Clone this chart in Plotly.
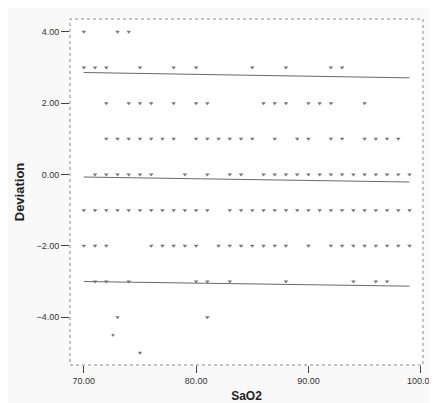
import plotly.graph_objects as go

# deviations per SaO2 value
rows = {
    4: [70, 73, 74],
    3: [70, 71, 72, 75, 78, 80, 85, 88, 92, 93],
    2: [72, 74, 75, 76, 78, 80, 81, 86, 87, 88, 90, 91, 92, 95],
    1: [72, 73, 74, 75, 76, 77, 78, 80, 81, 82, 83, 84, 85, 87, 89, 90,
        92, 93, 95, 96, 97, 98],
    0: [71, 72, 73, 74, 75, 76, 79, 81, 83, 84, 86, 87, 88, 89, 90, 91,
        92, 93, 94, 95, 96, 97, 98, 99],
    -1: [70, 71, 72, 73, 74, 75, 76, 77, 78, 79, 80, 81, 83, 84, 85, 86,
         87, 88, 89, 90, 91, 92, 93, 94, 95, 96, 97, 98, 99],
    -2: [70, 71, 72, 76, 77, 78, 79, 80, 82, 83, 84, 85, 86, 87, 88, 90,
         92, 93, 94, 95, 96, 97, 98, 99],
    -3: [71, 72, 74, 80, 81, 83, 88, 94, 96, 97],
    -4: [73, 81],
    -5: [75],
}
odd_x = [72.6]
odd_y = [-4.5]

# fitted lines (mean and limits), ends at SaO2 70 and 99
line_x = [70, 99]
upper_y = [2.86, 2.71]
mean_y = [-0.07, -0.21]
lower_y = [-3.0, -3.13]

sao2 = []
dev = []
for d, xs in rows.items():
    for x in xs:
        sao2.append(x)
        dev.append(d)

fig = go.Figure()
fig.add_trace(go.Scatter(x=sao2, y=dev, mode='markers',
                         marker=dict(symbol='triangle-down', size=4, color='#777777'),
                         showlegend=False))
fig.add_trace(go.Scatter(x=odd_x, y=odd_y, mode='markers',
                         marker=dict(symbol='circle', size=3, color='#888888'),
                         showlegend=False))
for ys in [upper_y, mean_y, lower_y]:
    fig.add_trace(go.Scatter(x=line_x, y=ys, mode='lines',
                             line=dict(color='#6a6a6a', width=1),
                             showlegend=False))

# dotted frame round the plot area
fig.add_shape(type='rect', xref='paper', yref='paper', x0=0, y0=0, x1=1, y1=1,
              line=dict(color='#8a8a8a', width=1, dash='dot'))

fig.update_layout(
    width=437, height=403,
    margin=dict(l=59, r=21, t=11, b=38),
    paper_bgcolor='#f9f9f9', plot_bgcolor='#ffffff',
    font=dict(family='Liberation Sans, Arial', size=9, color='#333333'),
)
fig.update_xaxes(range=[68.77, 100.2], tickvals=[70, 80, 90, 100], tickformat='.2f',
                 ticks='outside', ticklen=7, tickcolor='#444444', showgrid=False,
                 zeroline=False, showline=False,
                 title=dict(text='<b>SaO2</b>', font=dict(size=12, color='#222222'), standoff=6))
fig.update_yaxes(range=[-5.34, 4.36], tickvals=[-4, -2, 0, 2, 4], tickformat='.2f',
                 ticks='outside', ticklen=8, tickcolor='#444444', showgrid=False,
                 zeroline=False, showline=False,
                 title=dict(text='<b>Deviation</b>', font=dict(size=13, color='#222222'), standoff=8))

fig.write_html("out.html")
